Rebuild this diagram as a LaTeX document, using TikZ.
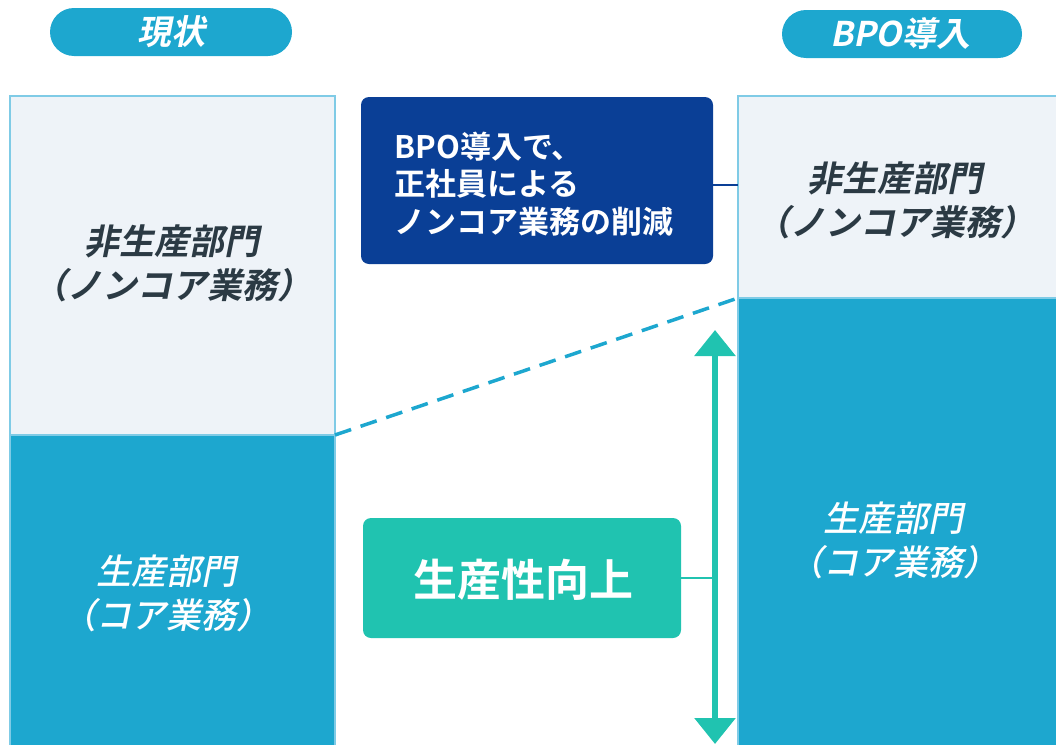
\documentclass[tikz,border=0pt]{standalone}
\usepackage{fontspec}
\setmainfont{Noto Sans CJK JP}
\newfontfamily\jpb{Noto Sans CJK JP Bold}
\newfontfamily\jpbi[FakeSlant=0.2]{Noto Sans CJK JP Bold}
\newfontfamily\jpi[FakeSlant=0.2]{Noto Sans CJK JP Medium}
\usetikzlibrary{arrows.meta}
\definecolor{cblue}{HTML}{1DA7CF}
\definecolor{cpale}{HTML}{EEF3F8}
\definecolor{cnavy}{HTML}{0A3F96}
\definecolor{cgreen}{HTML}{20C3B0}
\definecolor{ctext}{HTML}{2B3A44}
\definecolor{cedge}{HTML}{7FCBE6}
\tikzset{
  pilltxt/.style={text=white, font=\jpbi\fontsize{34}{40}\selectfont},
  darktxt/.style={text=ctext, font=\jpbi\fontsize{35}{44}\selectfont, align=center},
  whitetxt/.style={text=white, font=\jpi\fontsize{35}{44}\selectfont, align=center},
}
\begin{document}
\begin{tikzpicture}[x=1pt,y=-1pt]
\useasboundingbox (0,0) rectangle (1056,744);
% pills
\fill[cblue, rounded corners=24pt] (50,8) rectangle (292,56);
\node[pilltxt] (p1) at (171,32) {現状};
\fill[cblue, rounded corners=24pt] (782,10) rectangle (1022,58);
\node[pilltxt] (p2) at (900,34) {BPO導入};
% left column
\filldraw[fill=cpale, draw=cedge, line width=1.2pt] (10,96) rectangle (335,435);
\filldraw[fill=cblue, draw=cedge, line width=1.2pt] (10,435) rectangle (335,760);
\coordinate (lc) at (335,435);
\node[darktxt] (lt) at (172,263) {非生産部門\\（ノンコア業務）};
\node[whitetxt] (lb) at (166,593) {生産部門\\（コア業務）};
% right column
\filldraw[fill=cpale, draw=cedge, line width=1.2pt] (738,96) rectangle (1070,298);
\filldraw[fill=cblue, draw=cedge, line width=1.2pt] (738,298) rectangle (1070,760);
\coordinate (rc) at (738,298);
\coordinate (rl) at (738,185);
\node[darktxt] (rt) at (895,200) {非生産部門\\（ノンコア業務）};
\node[whitetxt] (rb) at (893,540) {生産部門\\（コア業務）};
% dashed line
\draw[cblue, line width=3.5pt, dash pattern=on 17pt off 10pt] (lc) -- (rc);
% navy box
\node[fill=cnavy, rounded corners=8pt, minimum width=352pt, minimum height=167pt, inner sep=0pt] (nb) at (537,180.5) {};
\node[text=white, font=\jpb\fontsize{31}{37.5}\selectfont, align=left, anchor=west] (nbt) at (391,184) {BPO導入で、\\正社員による\\ノンコア業務の削減};
\draw[cnavy, line width=2pt] (nb.east |- rl) -- (rl);
% green arrow
\coordinate (at) at (715,330);
\coordinate (ab) at (715,744);
\draw[cgreen, line width=6pt, {Triangle[width=40pt,length=26pt]}-{Triangle[width=40pt,length=26pt]}] (at) -- (ab);
\coordinate (am) at (715,578);
% green box
\node[fill=cgreen, rounded corners=8pt, minimum width=318pt, minimum height=120pt, inner sep=0pt] (gb) at (522,578) {};
\node[text=white, font=\jpb\fontsize{44}{50}\selectfont] (gbt) at (523,580) {生産性向上};
\draw[cgreen, line width=2pt] (gb.east) -- (am);
\end{tikzpicture}
\end{document}
